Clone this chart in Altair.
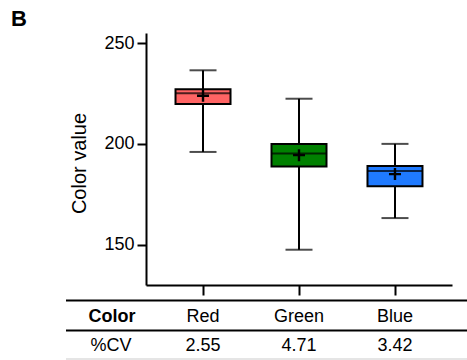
import altair as alt
import pandas as pd

categories = ["Red", "Green", "Blue"]
whisker_low = [196.0, 147.5, 163.2]
q1 = [219.8, 188.8, 179.0]
median = [225.1, 195.2, 186.5]
q3 = [227.1, 200.0, 189.0]
whisker_high = [236.5, 222.4, 200.0]
means = [223.9, 194.4, 185.0]
cv = [2.55, 4.71, 3.42]
fill_colors = ["#FF6464", "#008000", "#1F7AFF"]

df = pd.DataFrame({
    "cat": categories, "low": whisker_low, "q1": q1, "med": median,
    "q3": q3, "high": whisker_high, "mean": means, "cv": cv,
})

FONT = "Liberation Sans"

xs = alt.X("cat:N", sort=categories,
           scale=alt.Scale(type="point", padding=0.594),
           axis=alt.Axis(labels=False, title=None, ticks=True, tickSize=10,
                         tickWidth=2, tickColor="black", domainColor="black",
                         domainWidth=2, grid=False))
ys = alt.Y("low:Q", scale=alt.Scale(domain=[130, 255], nice=False, zero=False),
           axis=alt.Axis(values=[150, 200, 250], title="Color value", grid=False,
                         tickSize=9, tickWidth=2, tickColor="black",
                         domainColor="black", domainWidth=2,
                         labelFontSize=18, labelColor="black", labelPadding=3,
                         labelFont=FONT, titleFont=FONT, titleFontSize=20,
                         titleFontWeight="normal", titleColor="black",
                         titleX=-67, titleY=130, titleAngle=-90,
                         titleAlign="center", titleBaseline="middle"))

base = alt.Chart(df)

whisker = base.mark_rule(color="black", strokeWidth=2).encode(
    x=xs, y=ys, y2="high:Q")
cap_low = base.mark_tick(color="black", size=27, thickness=2).encode(
    x=alt.X("cat:N", sort=categories), y=alt.Y("low:Q"))
cap_high = base.mark_tick(color="black", size=27, thickness=2).encode(
    x=alt.X("cat:N", sort=categories), y=alt.Y("high:Q"))
box = base.mark_bar(width=55, stroke="black", strokeWidth=2).encode(
    x=alt.X("cat:N", sort=categories), y=alt.Y("q1:Q"), y2="q3:Q",
    color=alt.Color("cat:N", scale=alt.Scale(domain=categories, range=fill_colors),
                    legend=None))
med = base.mark_tick(color="black", size=55, thickness=2).encode(
    x=alt.X("cat:N", sort=categories), y=alt.Y("med:Q"))
mean_pt = base.mark_point(shape="M-1,0H1M0,-1V1", size=144, filled=False,
                          color="black", strokeWidth=2.4, opacity=1).encode(
    x=alt.X("cat:N", sort=categories), y=alt.Y("mean:Q"))

row1 = base.mark_text(font=FONT, fontSize=18, color="black", baseline="alphabetic").encode(
    x=alt.X("cat:N", sort=categories), y=alt.value(289), text="cat:N")
row2 = base.mark_text(font=FONT, fontSize=18, color="black", baseline="alphabetic").encode(
    x=alt.X("cat:N", sort=categories), y=alt.value(318), text=alt.Text("cv:Q", format=".2f"))

hdr = pd.DataFrame({"lab": ["Color", "%CV"], "w": ["bold", "normal"], "yy": [289, 318]})
hdr_bold = alt.Chart(hdr[hdr.w == "bold"]).mark_text(
    font=FONT, fontSize=18, fontWeight="bold", color="black", baseline="alphabetic"
).encode(x=alt.value(-34), y=alt.value(289), text="lab:N")
hdr_norm = alt.Chart(hdr[hdr.w == "normal"]).mark_text(
    font=FONT, fontSize=18, color="black", baseline="alphabetic"
).encode(x=alt.value(-35), y=alt.value(318), text="lab:N")

line1 = alt.Chart(df.head(1)).mark_rule(color="black", strokeWidth=2).encode(
    x=alt.value(-80), x2=alt.value(321), y=alt.value(267.5))
line2 = alt.Chart(df.head(1)).mark_rule(color="black", strokeWidth=2).encode(
    x=alt.value(-80), x2=alt.value(321), y=alt.value(297.5))
line3 = alt.Chart(df.head(1)).mark_rule(color="#DDDDDD", strokeWidth=1.5).encode(
    x=alt.value(-80), x2=alt.value(321), y=alt.value(326))

panel = alt.Chart(df.head(1)).mark_text(
    font=FONT, fontSize=22, fontWeight="bold", color="black", baseline="alphabetic"
).encode(x=alt.value(-127), y=alt.value(-7), text=alt.value("B"))

chart = alt.layer(
    whisker, cap_low, cap_high, box, med, mean_pt,
    line1, line2, line3, row1, row2, hdr_bold, hdr_norm, panel
).properties(
    width=306, height=252,
    autosize=alt.AutoSizeParams(type="none"),
    padding={"left": 146, "top": 33, "right": 15, "bottom": 75},
    background="white",
).configure_view(stroke=None).configure_axis(labelFont=FONT)

chart.save("out.html", embed_options={"renderer": "svg", "actions": False})
